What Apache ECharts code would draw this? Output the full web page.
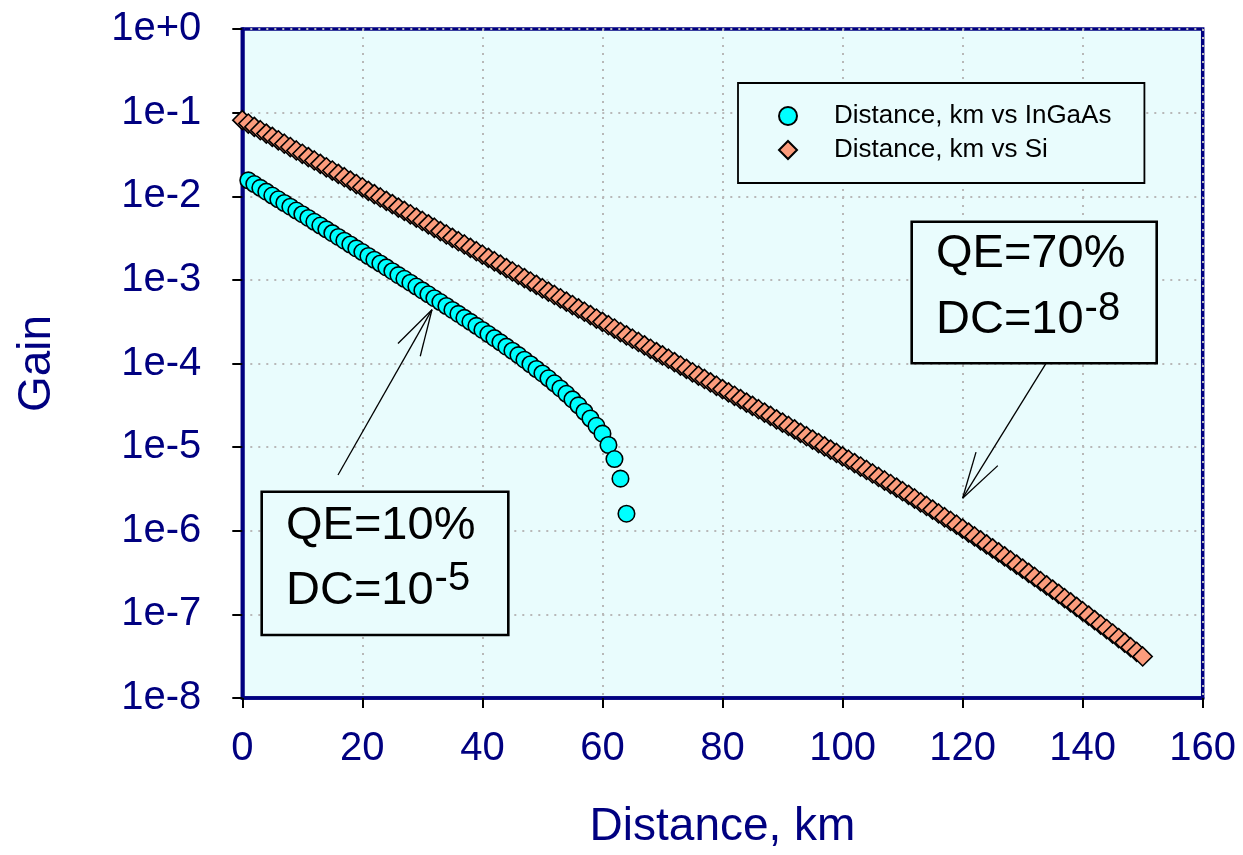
<!DOCTYPE html>
<html>
<head>
<meta charset="utf-8">
<script src="https://cdn.jsdelivr.net/npm/echarts@6/dist/echarts.min.js"></script>
<style>
html,body{margin:0;padding:0;background:#fff;}
#chart{width:1243px;height:855px;}
</style>
</head>
<body>
<div id="chart"></div>
<script>
// ---- data ----
const seriesNames = ['Distance, km vs InGaAs', 'Distance, km vs Si'];

const distanceInGaAs = [1,2,3,4,5,6,7,8,9,10,11,12,13,14,15,16,17,18,19,20,21,22,23,24,25,26,27,28,29,30,31,32,
  33,34,35,36,37,38,39,40,41,42,43,44,45,46,47,48,49,50,51,52,53,54,55,56,57,58,59,60,61,62,63,64];
const gainInGaAs = [1.55e-2,1.40e-2,1.26e-2,1.135e-2,1.02e-2,9.2e-3,8.3e-3,7.5e-3,6.75e-3,6.1e-3,
  5.5e-3,4.95e-3,4.46e-3,4.02e-3,3.62e-3,3.26e-3,2.94e-3,2.65e-3,2.38e-3,2.15e-3,
  1.93e-3,1.74e-3,1.57e-3,1.41e-3,1.27e-3,1.14e-3,1.03e-3,9.25e-4,8.32e-4,7.48e-4,
  6.72e-4,6.04e-4,5.43e-4,4.87e-4,4.37e-4,3.92e-4,3.51e-4,3.15e-4,2.82e-4,2.52e-4,
  2.25e-4,2.01e-4,1.79e-4,1.59e-4,1.42e-4,1.26e-4,1.11e-4,9.8e-5,8.6e-5,7.6e-5,
  6.65e-5,5.8e-5,5.03e-5,4.34e-5,3.72e-5,3.16e-5,2.65e-5,2.2e-5,1.8e-5,1.45e-5,
  1.06e-5,7.2e-6,4.2e-6,1.6e-6];

const distanceSi = [0,1,2,3,4,5,6,7,8,9,10,11,12,13,14,15,16,17,18,19,20,21,22,23,24,25,26,27,28,29,30,
  31,32,33,34,35,36,37,38,39,40,41,42,43,44,45,46,47,48,49,50,51,52,53,54,55,56,57,58,59,60,
  61,62,63,64,65,66,67,68,69,70,71,72,73,74,75,76,77,78,79,80,81,82,83,84,85,86,87,88,89,90,
  91,92,93,94,95,96,97,98,99,100,101,102,103,104,105,106,107,108,109,110,111,112,113,114,115,
  116,117,118,119,120,121,122,123,124,125,126,127,128,129,130,131,132,133,134,135,136,137,138,
  139,140,141,142,143,144,145,146,147,148,149,150];
const gainSi = [8.13e-2,7.41e-2,6.75e-2,6.16e-2,5.61e-2,5.12e-2,4.67e-2,4.25e-2,3.88e-2,3.53e-2,
  3.22e-2,2.94e-2,2.68e-2,2.44e-2,2.22e-2,2.03e-2,1.85e-2,1.69e-2,1.54e-2,1.40e-2,
  1.28e-2,1.16e-2,1.06e-2,9.67e-3,8.82e-3,8.04e-3,7.32e-3,6.68e-3,6.09e-3,5.55e-3,
  5.06e-3,4.61e-3,4.20e-3,3.83e-3,3.49e-3,3.18e-3,2.90e-3,2.65e-3,2.41e-3,2.20e-3,
  2.00e-3,1.83e-3,1.67e-3,1.52e-3,1.38e-3,1.26e-3,1.15e-3,1.05e-3,9.56e-4,8.71e-4,
  7.94e-4,7.24e-4,6.60e-4,6.02e-4,5.49e-4,5.00e-4,4.56e-4,4.16e-4,3.79e-4,3.45e-4,
  3.15e-4,2.87e-4,2.62e-4,2.38e-4,2.17e-4,1.98e-4,1.81e-4,1.65e-4,1.50e-4,1.37e-4,
  1.25e-4,1.14e-4,1.04e-4,9.45e-5,8.61e-5,7.85e-5,7.16e-5,6.53e-5,5.95e-5,5.42e-5,
  4.94e-5,4.51e-5,4.11e-5,3.75e-5,3.41e-5,3.11e-5,2.84e-5,2.59e-5,2.36e-5,2.15e-5,
  1.96e-5,1.79e-5,1.63e-5,1.48e-5,1.35e-5,1.23e-5,1.12e-5,1.02e-5,9.34e-6,8.51e-6,
  7.76e-6,7.07e-6,6.44e-6,5.86e-6,5.33e-6,4.84e-6,4.40e-6,3.99e-6,3.62e-6,3.28e-6,
  2.97e-6,2.69e-6,2.43e-6,2.19e-6,1.98e-6,1.79e-6,1.61e-6,1.45e-6,1.31e-6,1.18e-6,
  1.06e-6,9.51e-7,8.54e-7,7.66e-7,6.87e-7,6.16e-7,5.51e-7,4.93e-7,4.41e-7,3.94e-7,
  3.52e-7,3.14e-7,2.80e-7,2.49e-7,2.22e-7,1.98e-7,1.76e-7,1.56e-7,1.39e-7,1.23e-7,
  1.09e-7,9.65e-8,8.55e-8,7.56e-8,6.68e-8,5.90e-8,5.21e-8,4.60e-8,4.05e-8,3.57e-8,3.14e-8];

const xTicks = [0,20,40,60,80,100,120,140,160];
const yMin = 1e-8, yMax = 1;

// annotation texts and arrow targets (data coords)
const annotations = [
  {line1:'QE=10%', line2:'DC=10', sup:'-5', target:[31.6, 4.4e-4]},
  {line1:'QE=70%', line2:'DC=10', sup:'-8', target:[120.0, 2.45e-6]}
];

// ---- chart ----
const FONT = "'Liberation Sans', Arial, Helvetica, sans-serif";
const NAVY = '#000080';
const BG = '#E9FCFD';
const chart = echarts.init(document.getElementById('chart'), null, {renderer:'canvas'});

const inData = distanceInGaAs.map((d,i)=>[d, gainInGaAs[i]]);
const siData = distanceSi.map((d,i)=>[d, gainSi[i]]);

chart.setOption({
  animation:false,
  backgroundColor:'#fff',
  grid:{left:242.3, right:40.3, top:29, bottom:153.7, show:true, backgroundColor:BG,
        borderColor:NAVY, borderWidth:3.5},
  legend:{
    orient:'vertical', left:738, top:83,
    padding:[20,33,20,40],
    borderColor:'#000', borderWidth:1.8, backgroundColor:BG,
    itemWidth:18, itemHeight:18, itemGap:8,
    textStyle:{fontFamily:FONT, fontSize:26, lineHeight:26, color:'#000', padding:[0,0,0,32]},
    data:seriesNames
  },
  xAxis:{
    type:'value', min:xTicks[0], max:xTicks[xTicks.length-1], interval:20,
    name:'Distance, km', nameLocation:'middle', nameGap:106,
    nameTextStyle:{fontFamily:FONT, fontSize:46, color:NAVY},
    axisLine:{show:true, onZero:false, lineStyle:{color:NAVY, width:3.5}},
    axisTick:{show:true, inside:false, length:10, lineStyle:{color:'#000', width:2}},
    axisLabel:{fontFamily:FONT, fontSize:40, color:NAVY, margin:31},
    splitLine:{show:true, lineStyle:{color:'#b8b8b8', type:[2,6], width:2}}
  },
  yAxis:{
    type:'log', logBase:10, min:yMin, max:yMax, splitNumber:8,
    name:'Gain', nameLocation:'middle', nameGap:182,
    nameTextStyle:{fontFamily:FONT, fontSize:46, color:NAVY},
    axisLine:{show:true, lineStyle:{color:NAVY, width:3.5}},
    axisTick:{show:true, inside:false, length:10, lineStyle:{color:'#000', width:2}},
    axisLabel:{fontFamily:FONT, fontSize:40, color:NAVY, margin:41,
      formatter:function(v){const e=Math.round(Math.log10(v)); return '1e'+(e>=0?'+':'-')+Math.abs(e);}},
    splitLine:{show:true, lineStyle:{color:'#b8b8b8', type:[2,6], width:2}},
    minorTick:{show:false}
  },
  series:[
    {name:seriesNames[0], type:'scatter', data:inData, symbol:'circle', symbolSize:16.5,
     itemStyle:{color:'#00FFFF', borderColor:'#000', borderWidth:1.6, opacity:1},
     emphasis:{disabled:true}, clip:false, z:3},
    {name:seriesNames[1], type:'scatter', data:siData, symbol:'diamond', symbolSize:19,
     itemStyle:{color:'#FC9C7C', borderColor:'#000', borderWidth:1.6, opacity:1},
     emphasis:{disabled:true}, clip:false, z:3}
  ]
});

// text width helper for placing the superscripts
const mctx = document.createElement('canvas').getContext('2d');
function textWidth(t, size){ mctx.font = size + 'px ' + FONT; return mctx.measureText(t).width; }

// annotation boxes and arrows (arrow tips anchored through the axes)
const FS = 47, FSS = 40;
const boxes = [
  {x:261.7, y:491.7, w:246.6, h:143.3, tx:286, b1:541.7, b2:606.7, sb:591.7, from:[338,475]},
  {x:911.7, y:221.7, w:245, h:141.6, tx:936, b1:270, b2:336, sb:321.7, from:[1046,363.3]}
];
const graphics = [];
annotations.forEach((a,i)=>{
  const b = boxes[i];
  const sx = b.tx + textWidth(a.line2, FS) + 1;
  graphics.push({type:'rect', shape:{x:b.x, y:b.y, width:b.w, height:b.h}, z:100,
    style:{fill:BG, stroke:'#000', lineWidth:2.6}});
  graphics.push({type:'text', x:b.tx, y:b.b1-0.33*FS, z:101,
    style:{text:a.line1, fontFamily:FONT, fontSize:FS, fill:'#000', verticalAlign:'middle', align:'left'}});
  graphics.push({type:'text', x:b.tx, y:b.b2-0.33*FS, z:101,
    style:{text:a.line2, fontFamily:FONT, fontSize:FS, fill:'#000', verticalAlign:'middle', align:'left'}});
  graphics.push({type:'text', x:sx, y:b.sb-0.33*FSS, z:101,
    style:{text:a.sup, fontFamily:FONT, fontSize:FSS, fill:'#000', verticalAlign:'middle', align:'left'}});
  const tip = chart.convertToPixel({gridIndex:0}, a.target);
  const dx = b.from[0]-tip[0], dy = b.from[1]-tip[1];
  const ang = Math.atan2(dy, dx);
  const L = 48, da = 15.5*Math.PI/180;
  graphics.push({type:'line', z:102, shape:{x1:b.from[0], y1:b.from[1], x2:tip[0], y2:tip[1]},
    style:{stroke:'#000', lineWidth:1.3}});
  [ang+da, ang-da].forEach(t=>{
    graphics.push({type:'line', z:102, shape:{x1:tip[0], y1:tip[1], x2:tip[0]+L*Math.cos(t), y2:tip[1]+L*Math.sin(t)},
      style:{stroke:'#000', lineWidth:1.3}});
  });
});
chart.setOption({graphic:graphics});
</script>
</body>
</html>
